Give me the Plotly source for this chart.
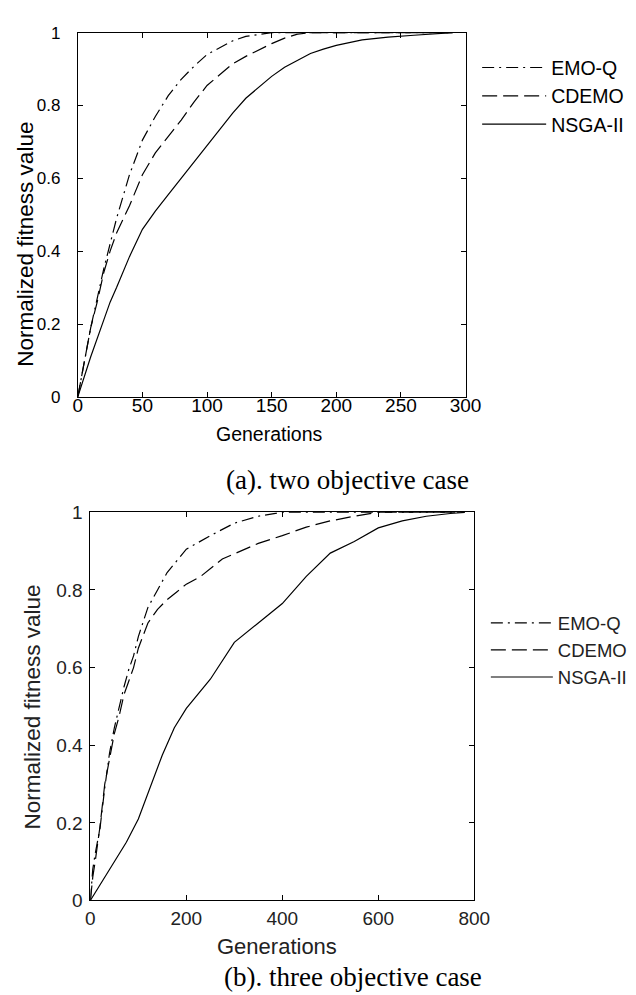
import plotly.graph_objects as go

# ---------------- data: (a) two objective case ----------------
gen_a_emoq = [0, 5, 10, 15, 20, 25, 30, 40, 50, 60, 70, 80, 90, 100, 110, 120, 130, 140, 150, 200, 250, 290]
emoq_a = [0, 0.10, 0.19, 0.27, 0.35, 0.42, 0.49, 0.61, 0.705, 0.77, 0.827, 0.872, 0.908, 0.94, 0.958, 0.978, 0.99, 0.996, 1.0, 1.0, 1.0, 1.0]

gen_a_cdemo = [0, 5, 10, 15, 20, 25, 30, 40, 50, 60, 70, 80, 90, 100, 110, 120, 130, 140, 150, 160, 170, 180, 230, 290]
cdemo_a = [0, 0.10, 0.19, 0.26, 0.34, 0.40, 0.45, 0.525, 0.61, 0.67, 0.715, 0.76, 0.81, 0.855, 0.885, 0.915, 0.935, 0.953, 0.97, 0.985, 0.996, 1.0, 1.0, 1.0]

gen_a_nsga = [0, 10, 20, 25, 30, 40, 50, 60, 70, 80, 90, 100, 110, 120, 130, 140, 150, 160, 170, 180, 190, 200, 220, 240, 260, 280, 290]
nsga_a = [0, 0.11, 0.21, 0.26, 0.30, 0.385, 0.46, 0.51, 0.555, 0.60, 0.645, 0.69, 0.735, 0.78, 0.82, 0.85, 0.88, 0.905, 0.925, 0.943, 0.955, 0.965, 0.98, 0.988, 0.993, 0.998, 1.0]

# ---------------- data: (b) three objective case ----------------
gen_b_emoq = [0, 5, 10, 20, 30, 40, 50, 60, 70, 80, 90, 100, 120, 140, 160, 180, 200, 250, 300, 350, 400, 600, 780]
emoq_b = [0, 0.08, 0.12, 0.185, 0.29, 0.38, 0.445, 0.50, 0.55, 0.595, 0.63, 0.68, 0.755, 0.80, 0.845, 0.875, 0.905, 0.94, 0.972, 0.99, 1.0, 1.0, 1.0]

gen_b_cdemo = [0, 5, 10, 20, 30, 40, 50, 60, 70, 80, 90, 100, 120, 140, 160, 180, 200, 230, 250, 275, 300, 350, 400, 450, 500, 550, 600, 780]
cdemo_b = [0, 0.06, 0.10, 0.19, 0.30, 0.37, 0.43, 0.475, 0.53, 0.565, 0.60, 0.65, 0.715, 0.75, 0.775, 0.795, 0.815, 0.835, 0.855, 0.88, 0.893, 0.92, 0.94, 0.962, 0.978, 0.99, 1.0, 1.0]

gen_b_nsga = [0, 25, 50, 75, 100, 125, 150, 175, 200, 250, 300, 350, 400, 450, 500, 550, 600, 650, 700, 750, 780]
nsga_b = [0, 0.05, 0.10, 0.15, 0.21, 0.29, 0.375, 0.445, 0.495, 0.57, 0.665, 0.715, 0.765, 0.835, 0.895, 0.925, 0.96, 0.978, 0.99, 0.997, 1.0]

series_names = ["EMO-Q", "CDEMO", "NSGA-II"]
x_ticks_a = [0, 50, 100, 150, 200, 250, 300]
x_ticks_b = [0, 200, 400, 600, 800]
y_ticks = [0, 0.2, 0.4, 0.6, 0.8, 1]
y_tick_text = ["0", "0.2", "0.4", "0.6", "0.8", "1"]
x_title = "Generations"
y_title = "Normalized fitness value"
caption_a = "(a). two objective case"
caption_b = "(b). three objective case"

SANS = "Liberation Sans, Arial, sans-serif"
SERIF = "Liberation Serif, Times New Roman, serif"
dashes = ["12px,5px,2px,5px", "15px,6px", "solid"]

fig = go.Figure()

top = [(gen_a_emoq, emoq_a), (gen_a_cdemo, cdemo_a), (gen_a_nsga, nsga_a)]
bot = [(gen_b_emoq, emoq_b), (gen_b_cdemo, cdemo_b), (gen_b_nsga, nsga_b)]

for i, (xs, ys) in enumerate(top):
    fig.add_trace(go.Scatter(x=xs, y=ys, mode="lines", name=series_names[i],
                             line=dict(color="black", width=1.2, dash=dashes[i]),
                             xaxis="x", yaxis="y", legend="legend",
                             legendgroup="a%d" % i))
for i, (xs, ys) in enumerate(bot):
    fig.add_trace(go.Scatter(x=xs, y=ys, mode="lines", name=series_names[i],
                             line=dict(color="black", width=1.2, dash=dashes[i]),
                             xaxis="x2", yaxis="y2", legend="legend2",
                             legendgroup="b%d" % i))

W, H = 636, 995
def px(v):
    return v / W
def py(v):
    return 1 - v / H

axis_common = dict(showline=True, linecolor="black", linewidth=1, mirror="ticks",
                   ticks="inside", ticklen=5, tickwidth=1, tickcolor="black",
                   showgrid=False, zeroline=False)

fig.update_layout(
    width=W, height=H,
    margin=dict(l=0, r=0, t=0, b=0),
    paper_bgcolor="white", plot_bgcolor="white",
    xaxis=dict(domain=[px(67), px(468)], range=[0, 300], anchor="y",
               tickvals=x_ticks_a, tickfont=dict(family=SANS, size=19, color="black"),
               ticklabelstandoff=-9, **axis_common),
    yaxis=dict(domain=[py(387), py(15)], range=[0, 1], anchor="x",
               tickvals=y_ticks, ticktext=y_tick_text,
               tickfont=dict(family=SANS, size=17, color="black"),
               ticklabelstandoff=13, **axis_common),
    xaxis2=dict(domain=[px(80), px(477)], range=[0, 800], anchor="y2",
                tickvals=x_ticks_b, tickfont=dict(family=SANS, size=19, color="#222"),
                ticklabelstandoff=1, **axis_common),
    yaxis2=dict(domain=[py(901.5), py(505)], range=[0, 1], anchor="x2",
                tickvals=y_ticks, ticktext=y_tick_text,
                tickfont=dict(family=SANS, size=19, color="#222"),
                ticklabelstandoff=3, **axis_common),
    showlegend=True,
    legend=dict(x=px(480), y=py(31), xanchor="left", yanchor="top",
                font=dict(family=SANS, size=19.5, color="black"),
                bgcolor="rgba(0,0,0,0)", tracegroupgap=0, itemwidth=64),
    legend2=dict(x=px(489), y=py(599), xanchor="left", yanchor="top",
                 font=dict(family=SANS, size=18.5, color="#222"),
                 bgcolor="rgba(0,0,0,0)", tracegroupgap=0, itemwidth=62),
)

annotations = [
    dict(text=x_title, x=px(265), y=py(425), font=dict(family=SANS, size=19.5, color="black")),
    dict(text=y_title, x=px(13), y=py(231), textangle=-90, font=dict(family=SANS, size=22.5, color="black")),
    dict(text=caption_a, x=px(346), y=py(472), font=dict(family=SERIF, size=27, color="black")),
    dict(text=x_title, x=px(273), y=py(949), font=dict(family=SANS, size=22, color="#222")),
    dict(text=y_title, x=px(20), y=py(704), textangle=-90, font=dict(family=SANS, size=22.5, color="#222")),
    dict(text=caption_b, x=px(351.5), y=py(980), font=dict(family=SERIF, size=27, color="black")),
]
for a in annotations:
    a.update(xref="paper", yref="paper", xanchor="center", yanchor="middle", showarrow=False)
fig.update_layout(annotations=annotations)

fig.write_html("out.html")
